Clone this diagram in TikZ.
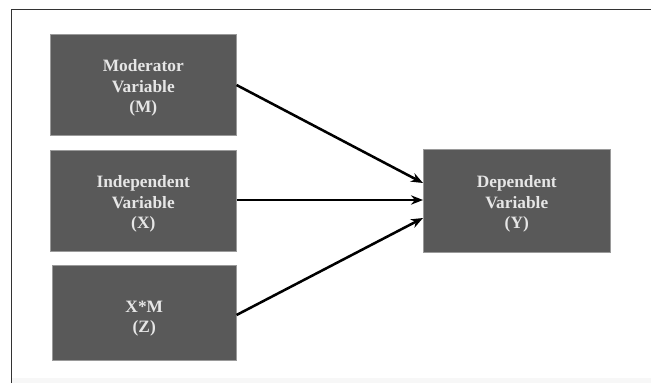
\documentclass[tikz,border=0pt]{standalone}
\usepackage{fontspec}
\setmainfont{Liberation Serif}
\usetikzlibrary{arrows.meta}
\definecolor{boxfill}{HTML}{595959}
\definecolor{boxedge}{HTML}{9A9A9A}
\definecolor{boxtext}{HTML}{E6E6E6}
\begin{document}
\begin{tikzpicture}[x=0.75pt,y=-0.75pt,
  boxfont/.style={text=boxtext,font=\fontsize{13}{15.4}\selectfont\bfseries,
    align=center,inner sep=0pt},
  varbox/.style={fill=boxfill,draw=boxedge,line width=0.4pt,
    inner sep=0pt,anchor=north west},
  link/.style={line width=1.9pt,-{Stealth[length=9pt,width=7pt]}}]
\useasboundingbox (0,0) rectangle (651,383);
\fill[white] (0,0) rectangle (651,383);
\fill[black!3] (12,378) rectangle (651,383);
% frame lines
\draw[line width=0.9pt,black!80] (11.5,383) -- (11.5,9.5) -- (651,9.5);
% variable boxes
\node[varbox,minimum width=186*0.75pt,minimum height=101*0.75pt] (M) at (50,34) {};
\node[varbox,minimum width=186*0.75pt,minimum height=101*0.75pt] (X) at (50,150) {};
\node[varbox,minimum width=184*0.75pt,minimum height=95*0.75pt] (Z) at (52,265) {};
\node[varbox,minimum width=187*0.75pt,minimum height=103*0.75pt] (Y) at (423,149) {};
% box captions
\node[boxfont] (Mtext) at ([yshift=-2.5pt]M.center) {Moderator\\Variable\\(M)};
\node[boxfont] (Xtext) at ([yshift=-2.5pt]X.center) {Independent\\Variable\\(X)};
\node[boxfont] (Ztext) at ([yshift=-4.5pt]Z.center) {X*M\\(Z)};
\node[boxfont] (Ytext) at ([yshift=-2.5pt]Y.center) {Dependent\\Variable\\(Y)};
% effects on Y
\draw[link] (M.east |- 0,85) -- (Y.west |- 0,183);
\draw[link] (X.east |- 0,200) -- (Y.west |- 0,200);
\draw[link] (Z.east |- 0,315) -- (Y.west |- 0,218);
\end{tikzpicture}
\end{document}
